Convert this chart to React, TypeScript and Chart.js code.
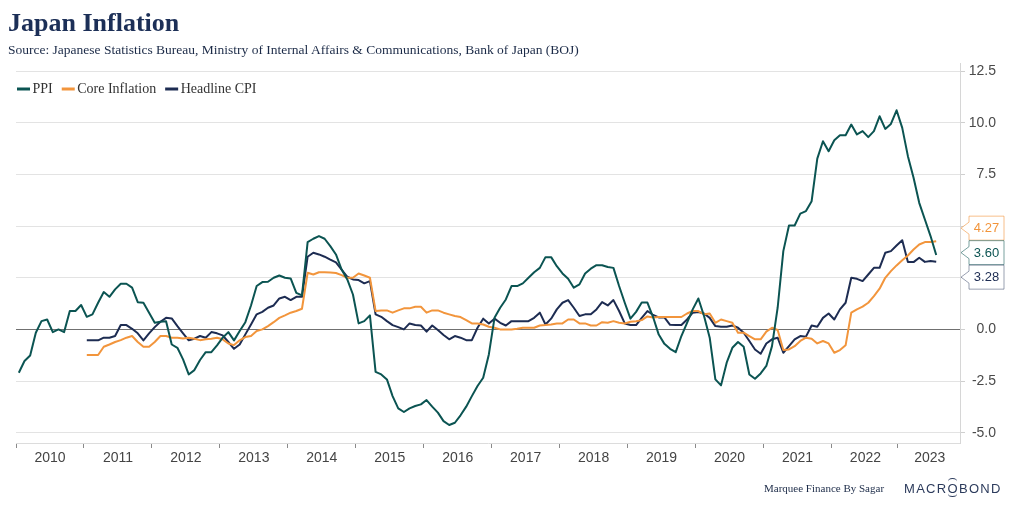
import React, { useEffect, useRef } from 'react';
import { Chart, registerables } from 'chart.js';

Chart.register(...registerables);

// ---- categories / ticks ----
const YEAR_LABELS = ['2010', '2011', '2012', '2013', '2014', '2015', '2016', '2017', '2018', '2019', '2020', '2021', '2022', '2023'];
const Y_TICKS = [-5, -2.5, 0, 2.5, 5, 7.5, 10, 12.5];
const PPI_START = 0; // Jan 2010 (month index)
const CPI_START = 12; // Jan 2011 (month index)

// ---- series values (YoY %, monthly) ----
const PPI = [
  -2.10, -1.53, -1.26, -0.16, 0.40, 0.48, -0.13, 0.00, -0.13, 0.89, 0.89, 1.18,
  0.61, 0.73, 1.29, 1.81, 1.58, 1.94, 2.21, 2.21, 2.02, 1.32, 1.29, 0.81,
  0.32, 0.37, 0.40, -0.73, -0.89, -1.45, -2.18, -1.97, -1.48, -1.10, -1.10, -0.77,
  -0.40, -0.13, -0.53, -0.08, 0.35, 1.16, 2.10, 2.29, 2.31, 2.50, 2.61, 2.50,
  2.47, 1.77, 1.65, 4.23, 4.39, 4.52, 4.39, 4.03, 3.63, 2.90, 2.42, 1.69,
  0.29, 0.40, 0.68, -2.06, -2.18, -2.42, -3.23, -3.82, -4.00, -3.82, -3.71, -3.63,
  -3.42, -3.74, -4.03, -4.44, -4.63, -4.52, -4.16, -3.74, -3.23, -2.74, -2.34, -1.21,
  0.56, 1.05, 1.45, 2.10, 2.10, 2.23, 2.50, 2.77, 2.98, 3.50, 3.50, 3.06,
  2.71, 2.45, 2.02, 2.18, 2.71, 2.94, 3.11, 3.11, 3.02, 2.98, 2.10, 1.29,
  0.52, 0.85, 1.30, 1.30, 0.60, -0.25, -0.70, -0.94, -1.10, -0.32, 0.32, 0.97,
  1.50, 0.65, -0.40, -2.42, -2.71, -1.61, -0.89, -0.61, -0.84, -2.18, -2.39, -2.13,
  -1.77, -0.81, 1.05, 3.79, 5.03, 5.03, 5.61, 5.73, 6.21, 8.27, 9.11, 8.63,
  9.16, 9.40, 9.40, 9.92, 9.44, 9.60, 9.31, 9.60, 10.32, 9.71, 9.95, 10.61,
  9.76, 8.39, 7.34, 6.13, 5.32, 4.52, 3.60,
];

const CORE_INFLATION = [
  -1.24, -1.24, -1.24, -0.84, -0.73, -0.61, -0.52, -0.40, -0.32, -0.61, -0.84, -0.84,
  -0.61, -0.32, -0.32, -0.40, -0.40, -0.44, -0.40, -0.45, -0.52, -0.48, -0.45, -0.40,
  -0.48, -0.68, -0.76, -0.53, -0.37, -0.32, -0.08, 0.00, 0.16, 0.35, 0.56, 0.68,
  0.81, 0.89, 1.00, 2.74, 2.66, 2.77, 2.77, 2.75, 2.73, 2.63, 2.50, 2.50,
  2.71, 2.61, 2.50, 0.89, 0.92, 0.92, 0.81, 0.92, 1.02, 1.02, 1.10, 1.10,
  0.81, 0.92, 0.92, 0.81, 0.73, 0.65, 0.60, 0.45, 0.29, 0.29, 0.24, 0.13,
  0.08, 0.00, 0.00, 0.00, 0.03, 0.08, 0.08, 0.08, 0.19, 0.21, 0.24, 0.29,
  0.29, 0.48, 0.48, 0.29, 0.29, 0.19, 0.19, 0.35, 0.32, 0.40, 0.32, 0.29,
  0.37, 0.40, 0.45, 0.63, 0.58, 0.60, 0.60, 0.60, 0.60, 0.60, 0.77, 0.89,
  0.89, 0.73, 0.77, 0.32, 0.48, 0.40, 0.32, -0.16, -0.16, -0.32, -0.48, -0.48,
  -0.11, 0.08, -0.03, -1.00, -0.97, -0.81, -0.56, -0.40, -0.45, -0.68, -0.56, -0.68,
  -1.13, -1.00, -0.77, 0.81, 0.97, 1.10, 1.29, 1.61, 1.97, 2.50, 2.82, 3.10,
  3.35, 3.58, 3.87, 4.11, 4.23, 4.23, 4.27,
];

const HEADLINE_CPI = [
  -0.53, -0.53, -0.53, -0.40, -0.40, -0.32, 0.21, 0.21, 0.03, -0.19, -0.53, -0.19,
  0.11, 0.37, 0.56, 0.53, 0.16, -0.19, -0.53, -0.45, -0.32, -0.40, -0.13, -0.19,
  -0.29, -0.61, -0.94, -0.73, -0.24, 0.24, 0.73, 0.85, 1.05, 1.16, 1.50, 1.58,
  1.42, 1.58, 1.58, 3.52, 3.71, 3.63, 3.52, 3.38, 3.25, 2.90, 2.55, 2.42,
  2.39, 2.23, 2.34, 0.73, 0.61, 0.40, 0.21, 0.11, 0.00, 0.29, 0.21, 0.19,
  -0.11, 0.19, -0.03, -0.27, -0.48, -0.32, -0.40, -0.52, -0.52, 0.08, 0.52, 0.29,
  0.52, 0.32, 0.19, 0.40, 0.40, 0.40, 0.40, 0.56, 0.81, 0.24, 0.52, 0.97,
  1.29, 1.42, 1.05, 0.65, 0.73, 0.73, 0.97, 1.32, 1.16, 1.42, 0.89, 0.29,
  0.21, 0.21, 0.56, 0.89, 0.70, 0.58, 0.58, 0.22, 0.21, 0.21, 0.48, 0.81,
  0.84, 0.77, 0.56, 0.16, 0.13, 0.13, 0.19, 0.08, -0.16, -0.56, -0.97, -1.18,
  -0.68, -0.48, -0.40, -1.13, -0.81, -0.48, -0.32, -0.35, 0.19, 0.13, 0.56, 0.77,
  0.48, 0.97, 1.29, 2.50, 2.45, 2.34, 2.66, 2.98, 2.98, 3.71, 3.79, 4.06,
  4.32, 3.26, 3.26, 3.47, 3.27, 3.31, 3.28,
];

// ---- styles ----
const PPI_COLOR = '#0b5452';
const CORE_COLOR = '#f2953c';
const CPI_COLOR = '#1d2c52';
const BOX_BORDERS = ['rgba(11,84,82,0.55)', 'rgba(242,149,60,0.6)', 'rgba(29,44,82,0.45)'];

const X_MIN = -0.5;
const X_MAX = 166.2;

const toPoints = (values: number[], start: number) => values.map((v, k) => ({ x: start + k, y: v }));

const inlineLegend = {
  id: 'inlineLegend',
  afterDraw(chart: any) {
    const ctx = chart.ctx;
    const y = 89;
    let x = 17;
    ctx.save();
    ctx.font = '14px "Liberation Serif", "Times New Roman", serif';
    ctx.textBaseline = 'middle';
    ctx.textAlign = 'left';
    chart.data.datasets.forEach((ds: any) => {
      ctx.strokeStyle = ds.borderColor;
      ctx.lineWidth = 3;
      ctx.beginPath();
      ctx.moveTo(x, y);
      ctx.lineTo(x + 13, y);
      ctx.stroke();
      x += 15.5;
      ctx.fillStyle = '#333333';
      ctx.fillText(ds.label, x, y + 0.5);
      x += ctx.measureText(ds.label).width + 9;
    });
    ctx.restore();
  },
};

const endLabels = {
  id: 'endLabels',
  afterDraw(chart: any) {
    const ctx = chart.ctx;
    const area = chart.chartArea;
    const H = 24.5;
    const items = chart.data.datasets
      .map((ds: any, i: number) => {
        const meta = chart.getDatasetMeta(i);
        const pt = meta.data[meta.data.length - 1];
        const last = ds.data[ds.data.length - 1].y;
        return { y: pt.y, pos: pt.y, text: last.toFixed(2), color: ds.borderColor, border: BOX_BORDERS[i] };
      })
      .sort((a: any, b: any) => a.y - b.y);
    let groups = items.map((it: any) => ({ members: [it], center: it.y }));
    let merged = true;
    while (merged) {
      merged = false;
      for (let g = 0; g < groups.length - 1; g++) {
        const a = groups[g];
        const b = groups[g + 1];
        if (a.center + (a.members.length * H) / 2 > b.center - (b.members.length * H) / 2) {
          const members = a.members.concat(b.members);
          const center = members.reduce((s: number, m: any) => s + m.y, 0) / members.length;
          groups.splice(g, 2, { members, center });
          merged = true;
          break;
        }
      }
    }
    groups.forEach((g: any) =>
      g.members.forEach((m: any, k: number) => {
        m.pos = g.center + (k - (g.members.length - 1) / 2) * H;
      })
    );
    const tip = area.right + 1;
    const left = area.right + 9;
    const right = area.right + 44;
    ctx.save();
    items.forEach((m: any) => {
      const top = m.pos - 12;
      const bot = m.pos + 12;
      ctx.beginPath();
      ctx.moveTo(left, top);
      ctx.lineTo(right, top);
      ctx.lineTo(right, bot);
      ctx.lineTo(left, bot);
      ctx.lineTo(left, m.pos + 6);
      ctx.lineTo(tip, m.pos);
      ctx.lineTo(left, m.pos - 6);
      ctx.closePath();
      ctx.fillStyle = '#ffffff';
      ctx.fill();
      ctx.strokeStyle = m.border;
      ctx.lineWidth = 1;
      ctx.stroke();
      ctx.fillStyle = m.color;
      ctx.font = '13px "Liberation Sans", Arial, sans-serif';
      ctx.textAlign = 'center';
      ctx.textBaseline = 'middle';
      ctx.fillText(m.text, (left + right) / 2, m.pos + 0.5);
    });
    ctx.restore();
  },
};

export default function App() {
  const ref = useRef<HTMLCanvasElement>(null);

  useEffect(() => {
    if (!ref.current) return;
    const chart = new Chart(ref.current, {
      type: 'line',
      data: {
        datasets: [
          { label: 'PPI', data: toPoints(PPI, PPI_START), borderColor: PPI_COLOR, backgroundColor: PPI_COLOR },
          { label: 'Core Inflation', data: toPoints(CORE_INFLATION, CPI_START), borderColor: CORE_COLOR, backgroundColor: CORE_COLOR },
          { label: 'Headline CPI', data: toPoints(HEADLINE_CPI, CPI_START), borderColor: CPI_COLOR, backgroundColor: CPI_COLOR },
        ],
      },
      options: {
        animation: false,
        responsive: false,
        elements: {
          line: { borderWidth: 2, tension: 0, fill: false, borderJoinStyle: 'round' },
          point: { radius: 0, hoverRadius: 0 },
        },
        layout: { padding: { left: 16, top: 63, right: 16, bottom: 0 } },
        scales: {
          x: {
            type: 'linear',
            position: 'bottom',
            min: X_MIN,
            max: X_MAX,
            afterBuildTicks: (s: any) => {
              s.ticks = YEAR_LABELS.map((_, k) => ({
                value: k < YEAR_LABELS.length - 1 ? 12 * k + 5.5 : (12 * k - 0.5 + X_MAX) / 2,
              }));
            },
            afterFit: (s: any) => {
              s.height = 63;
            },
            grid: {
              offset: true,
              drawOnChartArea: false,
              drawTicks: true,
              tickLength: 5,
              tickColor: (c: any) => (c.tick ? '#8a8a8a' : 'rgba(0,0,0,0)'),
            },
            border: { display: true, color: '#dcdcdc' },
            ticks: {
              autoSkip: false,
              maxRotation: 0,
              minRotation: 0,
              padding: 2,
              color: '#444444',
              font: { family: '"Liberation Sans", Arial, sans-serif', size: 14 },
              callback: (_v: any, i: number) => YEAR_LABELS[i],
            },
          },
          y: {
            type: 'linear',
            position: 'right',
            min: -5.5,
            max: 12.9,
            afterBuildTicks: (s: any) => {
              s.ticks = Y_TICKS.map((v) => ({ value: v }));
            },
            afterFit: (s: any) => {
              s.width = 36;
            },
            grid: {
              color: (c: any) => (c.tick && c.tick.value === 0 ? '#707070' : '#e3e3e3'),
              tickColor: '#cfcfcf',
              tickLength: 5,
              lineWidth: 1,
            },
            border: { display: true, color: '#d6d6d6' },
            ticks: {
              crossAlign: 'far',
              padding: 4,
              color: '#4a4a4a',
              font: { family: '"Liberation Sans", Arial, sans-serif', size: 14 },
              callback: (v: any) => Number(v).toFixed(1),
            },
          },
        },
        plugins: {
          legend: { display: false },
          tooltip: { enabled: false },
        },
      },
      plugins: [inlineLegend, endLabels],
    } as any);
    return () => chart.destroy();
  }, []);

  return (
    <div style={{ position: 'absolute', left: 0, top: 0, width: 1012, height: 506, background: '#ffffff', overflow: 'hidden' }}>
      <canvas ref={ref} width={1012} height={506} style={{ position: 'absolute', left: 0, top: 0, width: 1012, height: 506 }} />
      <div
        style={{
          position: 'absolute', left: 8, top: 10, whiteSpace: 'nowrap',
          font: 'bold 26px/26px "Liberation Serif", "Times New Roman", serif', color: '#1c2f57',
        }}
      >
        Japan Inflation
      </div>
      <div
        style={{
          position: 'absolute', left: 8, top: 43, whiteSpace: 'nowrap',
          font: '13.5px/13.5px "Liberation Serif", "Times New Roman", serif', color: '#1b2a47',
        }}
      >
        Source: Japanese Statistics Bureau, Ministry of Internal Affairs &amp; Communications, Bank of Japan (BOJ)
      </div>
      <div
        style={{
          position: 'absolute', left: 764, top: 483, whiteSpace: 'nowrap',
          font: '11px/11px "Liberation Serif", "Times New Roman", serif', color: '#1b2a47',
        }}
      >
        Marquee Finance By Sagar
      </div>
      <div
        style={{
          position: 'absolute', left: 904, top: 482, whiteSpace: 'nowrap', letterSpacing: '1.3px',
          font: '13px/13px "Liberation Sans", Arial, sans-serif', color: '#2c3b5c',
        }}
      >
        MACR
        <span style={{ position: 'relative' }}>
          O
          <span style={{ position: 'absolute', left: 1, top: -3, width: 9, height: 6, borderTop: '1px solid #2c3b5c', borderRadius: '50%' }} />
          <span style={{ position: 'absolute', left: 1, top: 9, width: 9, height: 6, borderBottom: '1px solid #2c3b5c', borderRadius: '50%' }} />
        </span>
        BOND
      </div>
    </div>
  );
}
